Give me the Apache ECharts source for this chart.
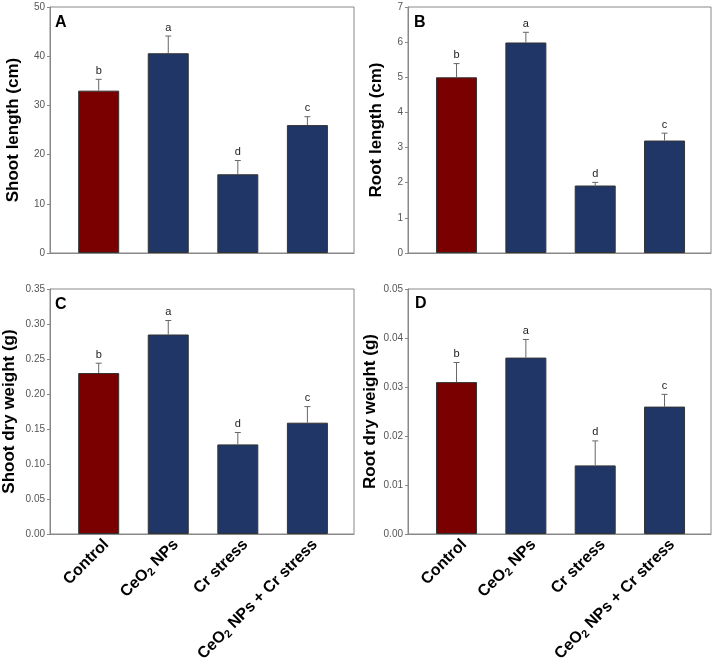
<!DOCTYPE html>
<html>
<head>
<meta charset="utf-8">
<script src="https://cdn.jsdelivr.net/npm/echarts@6/dist/echarts.min.js"></script>
<style>
  body { margin: 0; background: #fff; }
  #main { width: 716px; height: 668px; }
</style>
</head>
<body>
<div id="main"></div>
<script>
// treatments, one bar each
const categories = ['Control', 'CeO2 NPs', 'Cr stress', 'CeO2 NPs + Cr stress']
const sigLetters = ['b', 'a', 'd', 'c']

// A - shoot length (cm)
const shootLength = [33.0, 40.6, 16.0, 26.0]
const shootLengthErr = [2.3, 3.5, 2.8, 1.7]
// B - root length (cm)
const rootLength = [5.0, 5.99, 1.92, 3.2]
const rootLengthErr = [0.39, 0.29, 0.09, 0.21]
// C - shoot dry weight (g)
const shootDry = [0.230, 0.285, 0.128, 0.159]
const shootDryErr = [0.014, 0.020, 0.017, 0.023]
// D - root dry weight (g)
const rootDry = [0.031, 0.036, 0.014, 0.026]
const rootDryErr = [0.004, 0.0037, 0.005, 0.0025]

const panelLetters = ['A', 'B', 'C', 'D']
const yTitles = ['Shoot length (cm)', 'Root length (cm)', 'Shoot dry weight (g)', 'Root dry weight (g)']
const yMax = [50, 7, 0.35, 0.05]
const yInterval = [10, 1, 0.05, 0.01]
const yDecimals = [0, 0, 2, 2]

const panels = [
  { values: shootLength, errs: shootLengthErr },
  { values: rootLength, errs: rootLengthErr },
  { values: shootDry, errs: shootDryErr },
  { values: rootDry, errs: rootDryErr }
]

const grids = [
  { left: 50, top: 7, width: 304, height: 246 },
  { left: 408, top: 7, width: 303, height: 246 },
  { left: 50, top: 289, width: 304, height: 245 },
  { left: 408, top: 289, width: 303, height: 245 }
]
const nameGaps = [28, 23, 32, 29]
const letterPos = [[55, 15], [414, 15], [55, 297], [415, 296]]

const barColors = ['#7a0000', '#1f3666', '#1f3666', '#1f3666']

function catLabel(v) {
  const name = categories[Math.round(v) - 1] || ''
  return name.replace(/CeO2/g, 'CeO{sub|2}')
}

const chart = echarts.init(document.getElementById('main'))

const xAxes = []
const yAxes = []
const series = []
const titles = []

for (let i = 0; i < 4; i++) {
  const bottomRow = i >= 2
  xAxes.push({
    type: 'value',
    gridIndex: i,
    min: 0.3,
    max: 4.67,
    splitLine: { show: false },
    axisTick: { show: false },
    axisLine: { show: true, lineStyle: { color: '#888', width: 1 } },
    axisLabel: {
      show: bottomRow,
      // labels sit a little right of the bar centres in the original
      customValues: [1.11, 2.11, 3.11, 4.11],
      rotate: 45,
      margin: 8,
      fontFamily: 'Arial, Liberation Sans, sans-serif',
      fontSize: 16,
      fontWeight: 'bold',
      color: '#000',
      formatter: catLabel,
      rich: {
        sub: { fontSize: 11, fontWeight: 'bold', color: '#000', verticalAlign: 'bottom', padding: [8, 0, 0, 0] }
      }
    }
  })
  yAxes.push({
    type: 'value',
    gridIndex: i,
    min: 0,
    max: yMax[i],
    interval: yInterval[i],
    name: yTitles[i],
    nameLocation: 'middle',
    nameGap: nameGaps[i],
    nameTextStyle: {
      fontFamily: 'Arial, Liberation Sans, sans-serif',
      fontSize: 17,
      fontWeight: 'bold',
      color: '#000'
    },
    splitLine: { show: false },
    axisLine: { show: true, lineStyle: { color: '#888', width: 1 } },
    axisTick: { show: true, length: 3, lineStyle: { color: '#888' } },
    axisLabel: {
      fontFamily: 'Arial, Liberation Sans, sans-serif',
      fontSize: 10,
      color: '#555',
      margin: 5,
      formatter: (v) => v.toFixed(yDecimals[i])
    }
  })

  const p = panels[i]
  series.push({
    type: 'bar',
    xAxisIndex: i,
    yAxisIndex: i,
    barWidth: 41,
    data: p.values.map((v, k) => ({
      value: [k + 1, v],
      itemStyle: { color: barColors[k], borderColor: '#333', borderWidth: 1 }
    }))
  })
  series.push({
    type: 'custom',
    xAxisIndex: i,
    yAxisIndex: i,
    z: 5,
    data: p.values.map((v, k) => [k + 1, v, p.errs[k]]),
    renderItem: function (params, api) {
      const x = api.value(0)
      const v = api.value(1)
      const e = api.value(2)
      const p0 = api.coord([x, v])
      const p1 = api.coord([x, v + e])
      const style = { stroke: '#666', lineWidth: 1 }
      return {
        type: 'group',
        children: [
          { type: 'line', shape: { x1: p0[0], y1: p0[1], x2: p1[0], y2: p1[1] }, style: style },
          { type: 'line', shape: { x1: p1[0] - 3, y1: p1[1], x2: p1[0] + 3, y2: p1[1] }, style: style },
          {
            type: 'text',
            x: p1[0],
            y: p1[1] - 3,
            style: {
              text: sigLetters[params.dataIndex],
              fill: '#222',
              font: '11px Arial, Liberation Sans, sans-serif',
              align: 'center',
              verticalAlign: 'bottom'
            }
          }
        ]
      }
    }
  })

  titles.push({
    text: panelLetters[i],
    left: letterPos[i][0],
    top: letterPos[i][1],
    padding: 0,
    textStyle: {
      fontFamily: 'Arial, Liberation Sans, sans-serif',
      fontSize: 16,
      fontWeight: 'bold',
      color: '#000'
    }
  })
}

const option = {
  backgroundColor: '#fff',
  animation: false,
  title: titles,
  grid: grids.map((g) => Object.assign({ show: true, borderColor: '#888', borderWidth: 1, backgroundColor: 'transparent' }, g)),
  xAxis: xAxes,
  yAxis: yAxes,
  series: series
}

chart.setOption(option)
</script>
</body>
</html>
